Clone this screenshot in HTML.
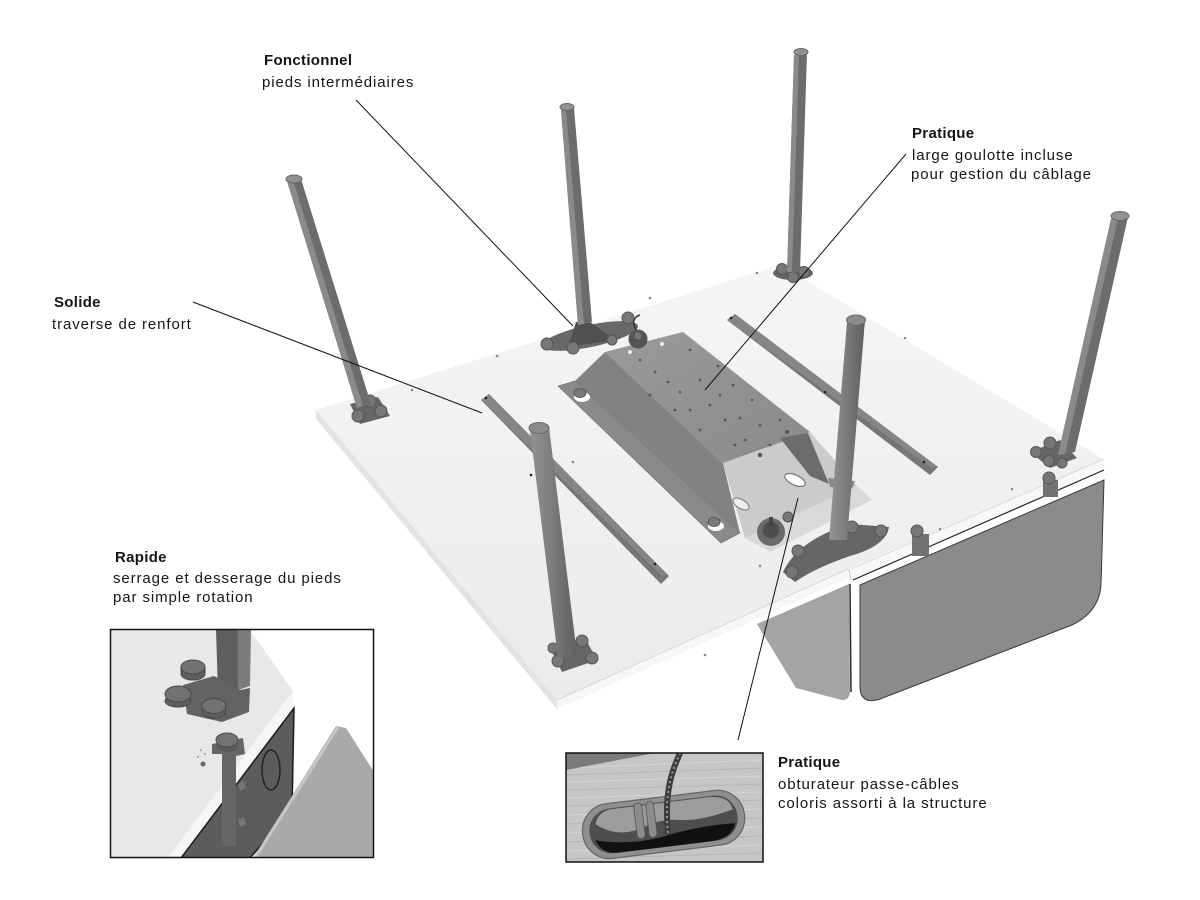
<!DOCTYPE html>
<html><head><meta charset="utf-8">
<style>
html,body{margin:0;padding:0;background:#fff;}
body{width:1200px;height:900px;overflow:hidden;}
svg{display:block;}
.tx{font-family:"Liberation Sans",Arial,sans-serif;font-size:15px;letter-spacing:0.9px;fill:#151515;}
.b{font-weight:bold;letter-spacing:0.3px;}
</style></head><body>
<svg width="1200" height="900" viewBox="0 0 1200 900" xmlns="http://www.w3.org/2000/svg">
<defs>
 <linearGradient id="top" x1="0" y1="0" x2="0" y2="1"><stop offset="0" stop-color="#f5f5f5"/><stop offset="1" stop-color="#ebebeb"/></linearGradient>
 <linearGradient id="rl" x1="0" y1="0" x2="1" y2="0"><stop offset="0" stop-color="#939393"/><stop offset=".45" stop-color="#7d7d7d"/><stop offset="1" stop-color="#5f5f5f"/></linearGradient>
 <linearGradient id="tray" x1="0" y1="0" x2="1" y2="1"><stop offset="0" stop-color="#9a9a9a"/><stop offset="1" stop-color="#8a8a8a"/></linearGradient>
 <clipPath id="c1"><rect x="111" y="630" width="262" height="227"/></clipPath>
 <clipPath id="c2"><rect x="566" y="753" width="197" height="109"/></clipPath>
</defs>
<rect width="1200" height="900" fill="#fff"/>

<!-- modesty panels -->
<path d="M757,624 L849,584 L850,690 Q850,703 838,699 L796,688 Z" fill="#a4a4a4"/>
<line x1="850" y1="584" x2="851" y2="692" stroke="#2a2a2a" stroke-width="1.5"/>
<path d="M860,585 L1104,480 L1101,585 Q1099,612 1072,625 L880,699 Q861,705 860,688 Z" fill="#8b8b8b" stroke="#3a3a3a" stroke-width="1"/>

<!-- table tops -->
<polygon points="316,410 780,265 1104,459 848,569 557,700" fill="url(#top)"/>
<polygon points="316,410 557,700 557,709 316,419" fill="#e3e3e3"/>
<polygon points="557,700 848,569 848,578 557,709" fill="#f7f7f7"/>
<line x1="557" y1="700" x2="848" y2="569" stroke="#d8d8d8" stroke-width="1"/>
<polygon points="851,569 1104,459 1104,469 853,579" fill="#f7f7f7"/>
<line x1="851" y1="569" x2="1104" y2="459" stroke="#d8d8d8" stroke-width="1"/>
<line x1="849" y1="569" x2="851" y2="580" stroke="#bbb" stroke-width="1"/>
<line x1="853" y1="580" x2="1104" y2="470" stroke="#222" stroke-width="1.2"/>

<!-- screw dots on table -->
<g fill="#888">
<circle cx="412" cy="390" r="1.3"/><circle cx="497" cy="356" r="1.3"/><circle cx="757" cy="273" r="1.3"/>
<circle cx="905" cy="338" r="1.3"/><circle cx="650" cy="298" r="1.3"/><circle cx="705" cy="655" r="1.3"/>
<circle cx="760" cy="566" r="1.3"/><circle cx="1012" cy="489" r="1.3"/><circle cx="620" cy="358" r="1.3"/>
<circle cx="573" cy="462" r="1.3"/><circle cx="940" cy="529" r="1.3"/>
</g>

<!-- crossbars -->
<polygon points="481,400 489,394 669,576 661,584" fill="#767676"/>
<polygon points="481,400 489,394 666,574 663,577" fill="#868686"/>
<circle cx="486" cy="398" r="1.3" fill="#222"/><circle cx="531" cy="475" r="1.3" fill="#222"/><circle cx="655" cy="564" r="1.3" fill="#222"/>
<polygon points="727,320 735,314 938,467 930,475" fill="#767676"/>
<polygon points="727,320 735,314 936,466 933,469" fill="#868686"/>
<circle cx="731" cy="318" r="1.3" fill="#222"/><circle cx="825" cy="392" r="1.3" fill="#222"/><circle cx="924" cy="462" r="1.3" fill="#222"/>

<!-- cable tray -->
<polygon points="558,386 575,381 740,533 721,543" fill="#8a8a8a" stroke="#6f6f6f" stroke-width=".6"/>
<polygon points="575,381 605,352 723,463 740,533" fill="#828282"/>
<polygon points="605,352 683,332 810,432 723,463" fill="url(#tray)"/>
<polygon points="723,463 810,432 857,486 745,538" fill="#cbcbcb"/>
<polygon points="780,438 808,433 829,484 810,476" fill="#6c6c6c"/>
<polygon points="828,478 855,481 852,489 830,487" fill="#888"/>
<polygon points="745,538 857,486 872,500 770,552" fill="#d9d9d9"/>
<ellipse cx="795" cy="480" rx="11" ry="5" transform="rotate(25 795 480)" fill="#fff" stroke="#777" stroke-width="1.2"/>
<ellipse cx="741" cy="504" rx="9" ry="4.5" transform="rotate(30 741 504)" fill="#eee" stroke="#888" stroke-width="1.2"/>
<g fill="#575757">
<circle cx="640" cy="360" r="1.4"/><circle cx="655" cy="372" r="1.4"/><circle cx="668" cy="382" r="1.4"/><circle cx="650" cy="395" r="1.4"/>
<circle cx="680" cy="392" r="1.4"/><circle cx="700" cy="380" r="1.4"/><circle cx="690" cy="410" r="1.4"/><circle cx="710" cy="405" r="1.4"/>
<circle cx="725" cy="420" r="1.4"/><circle cx="740" cy="418" r="1.4"/><circle cx="745" cy="440" r="1.4"/><circle cx="760" cy="425" r="1.4"/>
<circle cx="770" cy="445" r="1.4"/><circle cx="735" cy="445" r="1.4"/><circle cx="700" cy="430" r="1.4"/><circle cx="675" cy="410" r="1.4"/>
<circle cx="720" cy="395" r="1.4"/><circle cx="752" cy="400" r="1.4"/><circle cx="780" cy="420" r="1.4"/><circle cx="690" cy="350" r="1.4"/>
<circle cx="718" cy="366" r="1.4"/><circle cx="733" cy="385" r="1.4"/><circle cx="760" cy="455" r="2.2"/><circle cx="787" cy="432" r="2"/>
</g>
<circle cx="630" cy="352" r="2" fill="#eee"/><circle cx="662" cy="344" r="2" fill="#eee"/>
<ellipse cx="582" cy="397" rx="8" ry="5" fill="#fff"/><ellipse cx="580" cy="393" rx="6" ry="4.5" fill="#7a7a7a" stroke="#5a5a5a"/>
<ellipse cx="716" cy="526" rx="8" ry="5" fill="#fff"/><ellipse cx="714" cy="522" rx="6" ry="4.5" fill="#7a7a7a" stroke="#5a5a5a"/>

<!-- feet -->
<g stroke="#555" stroke-width="1">
<polygon points="350,404 378,397 390,416 360,424" fill="#666" stroke="none"/>
<circle cx="370" cy="401" r="6" fill="#777"/><circle cx="381" cy="411" r="6" fill="#777"/><circle cx="358" cy="416" r="6" fill="#777"/>

<ellipse cx="590" cy="336" rx="49" ry="11" transform="rotate(-12 590 336)" fill="#686868" stroke="none"/>
<polygon points="576,322 590,322 615,340 568,347" fill="#505050" stroke="none"/>
<circle cx="547" cy="344" r="6" fill="#777"/><circle cx="573" cy="348" r="6" fill="#777"/><circle cx="628" cy="318" r="6" fill="#777"/><circle cx="612" cy="340" r="5" fill="#777"/>
<circle cx="638" cy="339" r="9" fill="#555"/><circle cx="638" cy="336" r="4" fill="#777"/>
<path d="M636,330 Q630,318 640,315" fill="none" stroke="#333" stroke-width="1.5"/>

<ellipse cx="793" cy="273" rx="20" ry="7" fill="#666" stroke="none"/>
<circle cx="782" cy="269" r="5.5" fill="#777"/><circle cx="793" cy="277" r="5.5" fill="#777"/><circle cx="804" cy="272" r="5.5" fill="#777"/>

<polygon points="1030,452 1060,440 1077,458 1050,468" fill="#666" stroke="none"/>
<circle cx="1036" cy="452" r="5.5" fill="#777"/><circle cx="1050" cy="443" r="6" fill="#777"/><circle cx="1049" cy="461" r="5.5" fill="#777"/><circle cx="1062" cy="463" r="5" fill="#777"/>
<rect x="1043" y="480" width="15" height="17" fill="#727272" stroke="none"/>
<circle cx="1049" cy="478" r="6" fill="#777"/>
<rect x="912" y="534" width="17" height="22" fill="#727272" stroke="none"/>
<circle cx="917" cy="531" r="6" fill="#777"/>

<polygon points="550,648 585,638 597,660 562,672" fill="#666" stroke="none"/>
<circle cx="582" cy="641" r="6" fill="#777"/><circle cx="592" cy="658" r="6" fill="#777"/><circle cx="558" cy="661" r="6" fill="#777"/><circle cx="553" cy="648" r="5" fill="#777"/>

<path d="M783,572 Q798,540 850,524 L889,527 Q886,546 850,556 Q815,568 795,582 Z" fill="#666" stroke="none"/>
<circle cx="798" cy="551" r="6" fill="#777"/><circle cx="852" cy="527" r="6" fill="#777"/><circle cx="881" cy="531" r="6" fill="#777"/><circle cx="792" cy="572" r="6" fill="#777"/>

<circle cx="771" cy="532" r="14" fill="#6a6a6a" stroke="none"/>
<circle cx="771" cy="530" r="8" fill="#4d4d4d"/>
<rect x="769" y="517" width="4" height="10" fill="#444" stroke="none"/>
<circle cx="788" cy="517" r="5" fill="#777"/>
</g>

<!-- legs -->
<polygon points="287,181 301,179 371,404 357,408" fill="#6c6c6c"/>
<polygon points="287,181 293,180 363,406 357,408" fill="#8a8a8a"/>
<ellipse cx="294" cy="179" rx="8" ry="4" fill="#929292" stroke="#666"/>

<polygon points="561,110 574,108 592,322 578,325" fill="#6c6c6c"/>
<polygon points="561,110 566,109 584,324 578,325" fill="#8a8a8a"/>
<ellipse cx="567" cy="107" rx="7" ry="3.5" fill="#929292" stroke="#666"/>

<polygon points="794,55 807,53 800,272 787,272" fill="#6c6c6c"/>
<polygon points="794,55 799,54 792,272 787,272" fill="#8a8a8a"/>
<ellipse cx="801" cy="52" rx="7" ry="3.5" fill="#929292" stroke="#666"/>

<polygon points="1111,219 1128,217 1075,452 1058,455" fill="#6c6c6c"/>
<polygon points="1111,219 1118,218 1065,454 1058,455" fill="#8a8a8a"/>
<ellipse cx="1120" cy="216" rx="9" ry="4.5" fill="#929292" stroke="#666"/>

<polygon points="530,430 549,427 577,655 558,658" fill="url(#rl)"/>
<ellipse cx="539" cy="428" rx="10" ry="5.5" fill="#8c8c8c" stroke="#6a6a6a"/>

<polygon points="847,322 865,320 847,540 829,540" fill="url(#rl)"/>
<ellipse cx="856" cy="320" rx="9.5" ry="5" fill="#8c8c8c" stroke="#6a6a6a"/>

<!-- connector lines -->
<g stroke="#111" stroke-width="1" fill="none">
<line x1="356" y1="100" x2="573" y2="326"/>
<line x1="193" y1="302" x2="482" y2="413"/>
<line x1="906" y1="154" x2="705" y2="390"/>
<line x1="798" y1="498" x2="738" y2="740"/>
</g>

<!-- inset 1 -->
<g clip-path="url(#c1)">
<rect x="111" y="630" width="262" height="227" fill="#fff"/>
<polygon points="111,630 250,630 293,691 293,707 176,858 111,858" fill="#e8e8e8"/>
<polygon points="293,691 293,707 181,858 168,858" fill="#f6f6f6"/>
<polygon points="294,708 292,810 250,858 181,858" fill="#5c5c5c" stroke="#1a1a1a" stroke-width="1.5"/>
<ellipse cx="271" cy="770" rx="9" ry="20" fill="none" stroke="#222" stroke-width="1.5"/>
<polygon points="336,726 346,728 374,772 374,858 253,858" fill="#a9a9a9"/>
<line x1="338" y1="727" x2="255" y2="858" stroke="#c6c6c6" stroke-width="3"/>
<polygon points="216,630 238,630 238,690 218,692" fill="#5f5f5f"/>
<polygon points="238,630 251,630 250,686 238,690" fill="#7c7c7c"/>
<path d="M183,685 L214,676 L240,690 L250,688 L249,712 L222,722 L187,714 Z" fill="#636363"/>
<g stroke="#4a4a4a" stroke-width="1">
<rect x="181" y="668" width="24" height="6" fill="#5e5e5e"/>
<ellipse cx="193" cy="674" rx="12" ry="6" fill="#5e5e5e"/>
<ellipse cx="193" cy="667" rx="12" ry="7" fill="#727272"/>
<ellipse cx="178" cy="701" rx="13" ry="6" fill="#5e5e5e"/>
<ellipse cx="178" cy="694" rx="13" ry="8" fill="#727272"/>
<ellipse cx="214" cy="712" rx="12" ry="6" fill="#5e5e5e"/>
<ellipse cx="214" cy="706" rx="12" ry="7.5" fill="#727272"/>
</g>
<polygon points="212,744 243,738 245,754 236,756 236,846 222,846 222,754 212,754" fill="#666"/>
<ellipse cx="227" cy="746" rx="11" ry="6" fill="#5a5a5a"/>
<ellipse cx="227" cy="740" rx="11" ry="7" fill="#737373" stroke="#4a4a4a"/>
<path d="M238,784 l6,-3 l2,7 l-6,3 z M238,820 l6,-3 l2,7 l-6,3 z" fill="#777"/>
<circle cx="203" cy="764" r="2.5" fill="#666"/>
<circle cx="198" cy="757" r=".9" fill="#888"/><circle cx="205" cy="754" r=".9" fill="#888"/><circle cx="201" cy="750" r=".9" fill="#888"/>
</g>
<rect x="110.5" y="629.5" width="263" height="228" fill="none" stroke="#111" stroke-width="1.5"/>

<!-- inset 2 -->
<g clip-path="url(#c2)">
<rect x="566" y="753" width="197" height="109" fill="#c6c6c6"/>
<g stroke-width="1">
<line x1="566" y1="768" x2="763" y2="760" stroke="#d4d4d4"/><line x1="566" y1="775" x2="763" y2="768" stroke="#b4b4b4"/>
<line x1="566" y1="782" x2="763" y2="776" stroke="#d6d6d6"/><line x1="566" y1="790" x2="763" y2="784" stroke="#b6b6b6"/>
<line x1="566" y1="798" x2="763" y2="792" stroke="#d4d4d4"/><line x1="566" y1="806" x2="763" y2="800" stroke="#b4b4b4"/>
<line x1="566" y1="815" x2="763" y2="809" stroke="#d6d6d6"/><line x1="566" y1="824" x2="763" y2="818" stroke="#b6b6b6"/>
<line x1="566" y1="833" x2="763" y2="827" stroke="#d4d4d4"/><line x1="566" y1="842" x2="763" y2="836" stroke="#b4b4b4"/>
<line x1="566" y1="851" x2="763" y2="845" stroke="#d6d6d6"/><line x1="566" y1="859" x2="763" y2="853" stroke="#b6b6b6"/>
</g>
<polygon points="566,753 655,753 566,770" fill="#7b7b7b"/>
<g transform="rotate(-7 663 824)">
<rect x="582" y="797" width="163" height="55" rx="27" fill="#8f8f8f" stroke="#666" stroke-width="1.2"/>
<rect x="589" y="802" width="149" height="45" rx="22" fill="#4e4e4e"/>
<path d="M596,816 Q600,803 615,803 L710,803 Q732,803 734,818 Q700,826 680,822 Q660,818 640,826 Q615,832 596,816 Z" fill="#9c9c9c"/>
<path d="M594,832 Q630,842 665,836 Q700,830 735,832 Q730,846 710,847 L615,847 Q598,846 594,832 Z" fill="#111"/>
<rect x="636" y="800" width="8" height="36" rx="4" fill="#8c8c8c" stroke="#555" stroke-width=".8"/>
<rect x="648" y="800" width="8" height="36" rx="4" fill="#8c8c8c" stroke="#555" stroke-width=".8"/>
</g>
<path d="M680,753 C672,772 664,790 668,834" fill="none" stroke="#3c3c3c" stroke-width="6"/>
<path d="M680,753 C672,772 664,790 668,834" fill="none" stroke="#999" stroke-width="2" stroke-dasharray="2 3"/>
</g>
<rect x="566" y="753" width="197" height="109" fill="none" stroke="#111" stroke-width="1.5"/>

<!-- labels -->
<text class="tx b" x="264" y="65">Fonctionnel</text>
<text class="tx" x="262" y="87">pieds intermédiaires</text>
<text class="tx b" x="54" y="307">Solide</text>
<text class="tx" x="52" y="329">traverse de renfort</text>
<text class="tx b" x="912" y="138">Pratique</text>
<text class="tx" x="912" y="160">large goulotte incluse</text>
<text class="tx" x="911" y="179">pour gestion du câblage</text>
<text class="tx b" x="115" y="562">Rapide</text>
<text class="tx" x="113" y="583">serrage et desserage du pieds</text>
<text class="tx" x="113" y="602">par simple rotation</text>
<text class="tx b" x="778" y="767">Pratique</text>
<text class="tx" x="778" y="789">obturateur passe-câbles</text>
<text class="tx" x="778" y="808">coloris assorti à la structure</text>
</svg>
</body></html>
